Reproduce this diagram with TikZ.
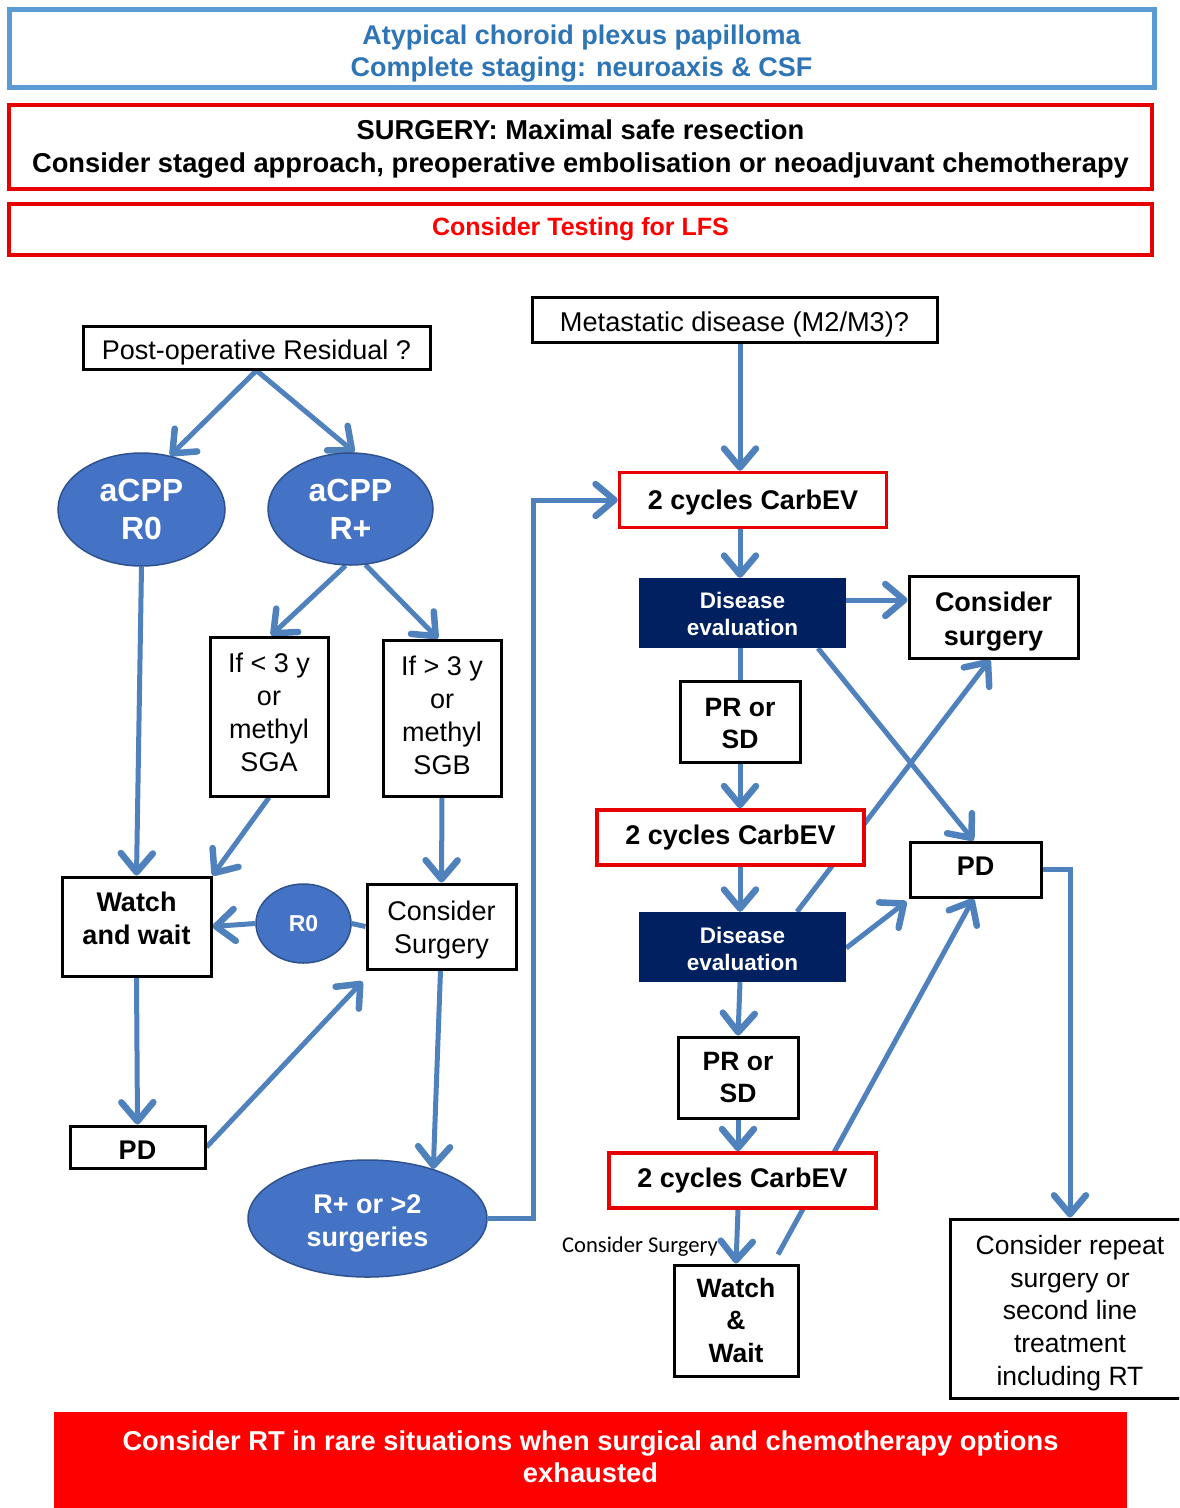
\documentclass[tikz,border=0pt]{standalone}
\usepackage{fontspec}
\setmainfont{Liberation Sans}
\newfontfamily\calfont{Carlito}
\usetikzlibrary{arrows.meta,shapes.geometric}
\definecolor{ablue}{RGB}{79,129,189}
\definecolor{efill}{RGB}{68,114,196}
\definecolor{eborder}{RGB}{47,82,143}
\definecolor{navy}{RGB}{0,32,96}
\definecolor{tblue}{RGB}{91,155,213}
\definecolor{ttext}{RGB}{46,117,182}
\definecolor{rborder}{RGB}{230,0,0}
\definecolor{bred}{RGB}{255,0,0}
\pgfdeclarelayer{bg}
\pgfsetlayers{bg,main}
\newcommand{\fs}[2]{\fontsize{#1}{#2}\selectfont}
% shift text down (first-line strut) / up (last-line depth strut)
\newcommand{\dn}[1]{\rule{0pt}{\dimexpr 0.73em+#1*2\relax}}
\newcommand{\upd}[1]{\rule[-#1]{0pt}{#1}}
\tikzset{
  base/.style={rectangle, inner sep=0pt, align=center, fill=white},
  bbox/.style={base, draw=black, line width=3pt},
  rbox/.style={base, draw=rborder, line width=3.5pt},
  ell/.style={ellipse, inner sep=0pt, fill=efill, draw=eborder, line width=1.5pt, text=white, align=center},
  debox/.style={rectangle, inner sep=0pt, fill=navy, text=white, align=center,
     minimum width=207pt, minimum height=70pt, font=\bfseries\fs{22.5}{27}},
  cyc/.style={rbox, minimum width=267pt, minimum height=55pt, font=\bfseries\fs{27}{32}},
  prsd/.style={bbox, minimum width=120pt, minimum height=81pt, font=\bfseries\fs{26.5}{32}},
  arr/.style={draw=ablue, line width=5pt, -{Straight Barb[length=19pt, width=32pt, line width=6.5pt, round]}},
  ln/.style={draw=ablue, line width=5pt},
}
\begin{document}
\begin{tikzpicture}[x=1pt,y=-1pt]
\useasboundingbox (0,0) rectangle (1179,1508);
\clip (0,0) rectangle (1179,1508);
% top boxes
\node[base, draw=tblue, line width=5pt, minimum width=1145pt, minimum height=78pt,
  text=ttext, font=\bfseries\fs{27}{32}] (title) at (581.5,48)
  {\dn{6pt}Atypical choroid plexus papilloma\\Complete staging: neuroaxis \& CSF};
\node[rbox, minimum width=1143pt, minimum height=84pt, font=\bfseries\fs{27.3}{33}] (surg) at (580.5,147)
  {\dn{2pt}SURGERY: Maximal safe resection\\Consider staged approach, preoperative embolisation or neoadjuvant chemotherapy};
\node[rbox, minimum width=1143pt, minimum height=51pt, text=red, font=\bfseries\fs{25}{30}] (lfs) at (580.5,229.5)
  {Consider Testing for LFS};
% left branch
\node[bbox, minimum width=347pt, minimum height=43pt, font=\fs{27}{30}] (post) at (256.5,347.5) {\dn{5pt}Post-operative Residual ?};
\node[ell, minimum width=167pt, minimum height=113pt, font=\bfseries\fs{32}{38}] (r0) at (141.5,509.5) {aCPP\\R0};
\node[ell, minimum width=165pt, minimum height=112pt, font=\bfseries\fs{32}{38}] (rp) at (350.5,509) {aCPP\\R+};
\node[bbox, minimum width=118pt, minimum height=159pt, font=\fs{27}{33}] (sga) at (269,716.5) {If < 3 y\\or\\methyl\\SGA\upd{8pt}};
\node[bbox, minimum width=118pt, minimum height=156pt, font=\fs{27}{33}] (sgb) at (442,718) {If > 3 y\\or\\methyl\\SGB\upd{6pt}};
\node[bbox, minimum width=149pt, minimum height=99pt, font=\bfseries\fs{27}{33}] (ww) at (136.5,926.5) {Watch\\and wait\upd{16pt}};
\node[ell, minimum width=95pt, minimum height=79pt, font=\bfseries\fs{23}{28}] (r0s) at (303.5,923.5) {R0};
\node[bbox, minimum width=149pt, minimum height=85pt, font=\fs{27}{33}] (cs) at (441.5,926.5) {\dn{3pt}Consider\\Surgery};
\node[bbox, minimum width=135pt, minimum height=42pt, font=\bfseries\fs{27}{32}] (pdl) at (137.5,1147) {\dn{3pt}PD};
\node[ell, minimum width=239pt, minimum height=117pt, font=\bfseries\fs{27}{33}] (rpe) at (367.5,1218.5) {\dn{4pt}R+ or >2\\surgeries};
% right branch
\node[bbox, minimum width=405pt, minimum height=45pt, font=\fs{27.2}{30}] (meta) at (734.5,319.5) {\dn{5pt}Metastatic disease (M2/M3)?};
\node[cyc] (cb1) at (753,500) {\dn{2pt}2 cycles CarbEV};
\node[debox] (de1) at (742.5,613) {\dn{1pt}Disease\\evaluation};
\node[bbox, minimum width=169pt, minimum height=82pt, font=\bfseries\fs{27}{34}] (csr) at (993.5,617) {\dn{4pt}Consider\\surgery};
\node[prsd] (pr1) at (740,721.5) {\dn{1pt}PR or\\SD};
\node[cyc] (cb2) at (730.5,837.5) {2 cycles CarbEV};
\node[bbox, minimum width=131pt, minimum height=55pt, font=\bfseries\fs{27}{32}] (pdr) at (975.5,869.5) {PD\upd{6pt}};
\node[debox] (de2) at (742.5,947) {\dn{2pt}Disease\\evaluation};
\node[prsd] (pr2) at (738,1077.5) {PR or\\SD};
\node[cyc] (cb3) at (742.5,1180.5) {2 cycles CarbEV};
\node[font=\calfont\fs{22.6}{25}, inner sep=0pt] (lbl) at (640,1247) {Consider Surgery};
\node[bbox, minimum width=124pt, minimum height=111pt, font=\bfseries\fs{26.5}{32.5}] (ww2) at (736,1320.5) {Watch\\\&\\Wait};
\node[bbox, minimum width=240pt, minimum height=179pt, font=\fs{26.5}{32.7}] (rep) at (1070,1308.5)
  {\dn{4.5pt}Consider repeat\\surgery or\\second line\\treatment\\including RT};
% bottom banner
\node[rectangle, inner sep=0pt, fill=bred, minimum width=1073pt, minimum height=97pt, text=white,
  align=center, font=\bfseries\fs{27.3}{32}] (rt) at (590.5,1460.5)
  {Consider RT in rare situations when surgical and chemotherapy options\\exhausted\upd{8pt}};
% connectors
\begin{pgfonlayer}{bg}
\draw[arr] (post.south) -- (r0.62);
\draw[arr] (post.south) -- (rp.86);
\draw[arr] (rp.-95) -- ([xshift=2pt]sga.north);
\draw[arr] (rp.-75) -- ([xshift=-4pt]sgb.north);
\draw[arr] (r0.south) -- (ww.north);
\draw[arr] (sga.south) -- (ww.north east);
\draw[arr] (sgb.south) -- (cs.north);
\draw[ln] (cs.west) -- (r0s.east);
\draw[arr] (r0s.west) -- (ww.east);
\draw[arr] (ww.south) -- (pdl.north);
\draw[arr] (pdl.east) -- ([xshift=-3pt,yshift=-11pt]cs.south west);
\draw[arr] ([xshift=-1pt]cs.south) -- (rpe.37);
\draw[arr] (rpe.east) -- ++(46,0) |- (cb1.west);
\draw[arr] ([xshift=5.5pt]meta.south) -- ([xshift=-13pt]cb1.north);
\draw[arr] ([xshift=-13pt]cb1.south) -- ([xshift=-2.5pt]de1.north);
\draw[arr] ([yshift=13pt]de1.east) -- ([yshift=17pt]csr.west);
\draw[ln] ([xshift=-2.5pt]de1.south) -- (pr1.north);
\draw[arr] (pr1.south) -- ([xshift=9.5pt]cb2.north);
\draw[arr] ([xshift=75.5pt]de1.south) -- ([xshift=-2pt]pdr.north);
\draw[arr] ([xshift=54.5pt]de2.north) -- ([xshift=-3.5pt]csr.south);
\draw[arr] ([xshift=9.5pt]cb2.south) -- ([xshift=-2.5pt]de2.north);
\draw[arr] ([yshift=-1pt]de2.east) -- ([xshift=-2pt,yshift=-3pt]pdr.south west);
\draw[arr] ([xshift=-2.5pt]de2.south) -- (pr2.north);
\draw[arr] (pr2.south) -- ([xshift=-4.5pt]cb3.north);
\draw[arr] ([xshift=-4.5pt]cb3.south) -- (ww2.north);
\draw[arr] ([xshift=42pt,yshift=9pt]ww2.north) -- ([xshift=-2pt]pdr.south);
\draw[arr] (pdr.east) -- (pdr.east -| rep.north) -- (rep.north);
\end{pgfonlayer}
\end{tikzpicture}
\end{document}
